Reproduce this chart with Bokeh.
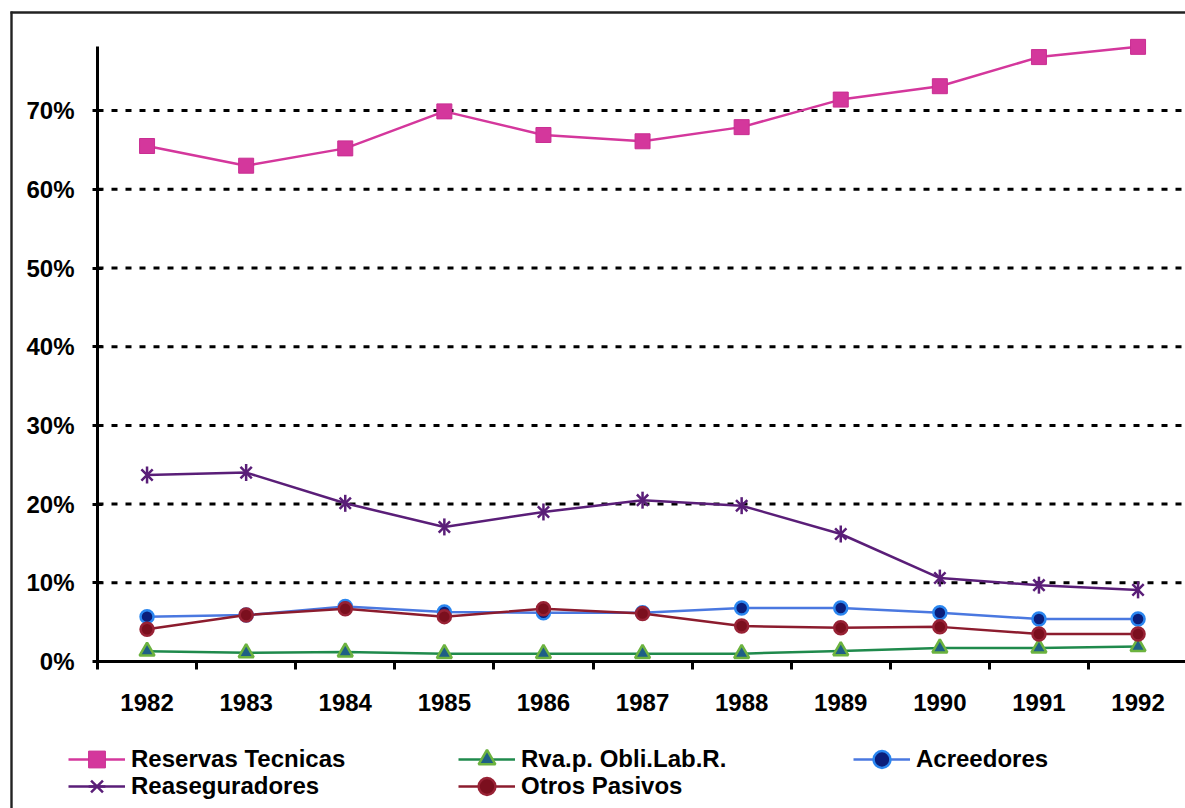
import math
from bokeh.plotting import figure
from bokeh.models import (Range1d, FixedTicker, Legend, LegendItem, BoxAnnotation,
                          CustomJSTickFormatter, PrintfTickFormatter)
from bokeh.embed import file_html
from bokeh.resources import INLINE

# Liability structure (% of total), 1982-1992
years = ["1982", "1983", "1984", "1985", "1986", "1987", "1988", "1989", "1990", "1991", "1992"]
reservas_tecnicas = [65.5, 63.0, 65.2, 69.9, 66.9, 66.1, 67.9, 71.4, 73.1, 76.8, 78.1]
reaseguradores = [23.7, 24.0, 20.1, 17.1, 19.0, 20.5, 19.8, 16.2, 10.6, 9.7, 9.1]
rva_obli_lab = [1.3, 1.1, 1.2, 1.0, 1.0, 1.0, 1.0, 1.35, 1.7, 1.7, 1.9]
acreedores = [5.7, 5.9, 7.0, 6.3, 6.2, 6.2, 6.8, 6.8, 6.2, 5.4, 5.4]
otros_pasivos = [4.1, 5.9, 6.7, 5.7, 6.7, 6.1, 4.5, 4.3, 4.4, 3.5, 3.5]
y_ticks = [0, 10, 20, 30, 40, 50, 60, 70]
y_axis_max = 78.2

FONT = "Liberation Sans"
W, H = 1185, 808

# canvas geometry: the frame covers the whole canvas, axes are pinned inside it
AXIS_X_PX = 97        # pixel column of the value axis
AXIS_Y_PX = 661       # pixel row of the category axis
PX_PER_CAT = 99.1
PX_PER_PCT = 7.87

x_start = -AXIS_X_PX / PX_PER_CAT
x_end = (W - AXIS_X_PX) / PX_PER_CAT
y_start = -(H - AXIS_Y_PX) / PX_PER_PCT
y_end = AXIS_Y_PX / PX_PER_PCT


def px_to_x(px):
    return (px - AXIS_X_PX) / PX_PER_CAT


def py_to_y(py):
    return (AXIS_Y_PX - py) / PX_PER_PCT


# category centres sit at i + 0.5, category boundaries at integers
xs = [i + 0.5 for i in range(len(years))]
boundaries = list(range(len(years) + 1))

p = figure(width=W, height=H, output_backend="svg", toolbar_location=None,
           x_range=Range1d(x_start, x_end), y_range=Range1d(y_start, y_end),
           min_border=0, min_border_left=0, min_border_right=0,
           min_border_top=0, min_border_bottom=0,
           background_fill_color="white", border_fill_color="white")
p.outline_line_color = None
p.xgrid.visible = False
p.ygrid.visible = False

# y axis
p.yaxis.fixed_location = 0
p.yaxis.ticker = FixedTicker(ticks=y_ticks, minor_ticks=[])
p.yaxis.formatter = PrintfTickFormatter(format="%d%%")
p.yaxis.bounds = (0, y_axis_max)
p.yaxis.axis_line_width = 3
p.yaxis.axis_line_color = "black"
p.yaxis.major_tick_line_width = 3
p.yaxis.major_tick_line_color = "black"
p.yaxis.major_tick_in = 5
p.yaxis.major_tick_out = 5
p.yaxis.minor_tick_line_color = None
p.yaxis.major_label_standoff = 18
p.yaxis.major_label_text_font = FONT
p.yaxis.major_label_text_font_style = "bold"
p.yaxis.major_label_text_font_size = "24px"
p.yaxis.major_label_text_color = "black"

# x axis: labels at category centres, tick marks between categories
p.xaxis.fixed_location = 0
p.xaxis.ticker = FixedTicker(ticks=xs, minor_ticks=boundaries)
p.xaxis.formatter = CustomJSTickFormatter(args=dict(yrs=years),
                                          code="return yrs[Math.floor(tick)] || ''")
p.xaxis.bounds = (0, x_end)
p.xaxis.axis_line_width = 3
p.xaxis.axis_line_color = "black"
p.xaxis.major_tick_line_color = None
p.xaxis.major_tick_in = 0
p.xaxis.major_tick_out = 0
p.xaxis.minor_tick_in = 0
p.xaxis.minor_tick_out = 8
p.xaxis.minor_tick_line_width = 3
p.xaxis.minor_tick_line_color = "black"
p.xaxis.major_label_standoff = 24
p.xaxis.major_label_text_font = FONT
p.xaxis.major_label_text_font_style = "bold"
p.xaxis.major_label_text_font_size = "24px"
p.xaxis.major_label_text_color = "black"

# dotted horizontal gridlines, starting at the value axis
grid_y = y_ticks[1:]
p.segment(x0=[0] * len(grid_y), x1=[x_end] * len(grid_y), y0=grid_y, y1=grid_y,
          line_color="black", line_width=3, line_dash="6 8")

# series
r_line = p.line(xs, reservas_tecnicas, line_color="#D4379C", line_width=2.5)
r_mark = p.scatter(xs, reservas_tecnicas, marker="square", size=15,
                   fill_color="#D4379C", line_color="#C92E92", line_width=1)

v_line = p.line(xs, rva_obli_lab, line_color="#1F8A4C", line_width=2.5)
v_mark = p.scatter(xs, rva_obli_lab, marker="triangle", size=15,
                   fill_color="#1E5F86", line_color="#6CB33F", line_width=2.5)

a_line = p.line(xs, acreedores, line_color="#4A78E0", line_width=2.5)
a_mark = p.scatter(xs, acreedores, marker="circle", size=13,
                   fill_color="#0B1E7A", line_color="#2A86F0", line_width=2.5)

s_line = p.line(xs, reaseguradores, line_color="#5A1E78", line_width=2.5)
s_x = p.scatter(xs, reaseguradores, marker="x", size=16,
                line_color="#5A1E78", line_width=2.5)
s_bar = p.scatter(xs, reaseguradores, marker="dash", angle=math.pi / 2, size=17,
                  line_color="#5A1E78", line_width=2.5)

o_line = p.line(xs, otros_pasivos, line_color="#8C1C2E", line_width=2.5)
o_mark = p.scatter(xs, otros_pasivos, marker="circle", size=13,
                   fill_color="#7B0F1E", line_color="#982235", line_width=2.5)

KEY_W, KEY_H = 57, 42


def add_entry(label, renderers, x_px, centre_py):
    # legend location is measured in pixels from the frame's bottom-left corner
    lg = Legend(items=[LegendItem(label=label, renderers=renderers)],
                location=(x_px, H - (centre_py + KEY_H / 2)), orientation="vertical",
                padding=0, margin=0, spacing=0,
                border_line_color=None, background_fill_alpha=0,
                glyph_width=KEY_W, glyph_height=KEY_H, label_standoff=6,
                label_text_font=FONT, label_text_font_style="bold",
                label_text_font_size="24px", label_text_color="black")
    p.add_layout(lg, "center")


ROW1, ROW2 = 758.5, 785.5
add_entry("Reservas Tecnicas", [r_line, r_mark], 68, ROW1)
add_entry("Rva.p. Obli.Lab.R.", [v_line, v_mark], 458, ROW1)
add_entry("Acreedores", [a_line, a_mark], 853, ROW1)
add_entry("Reaseguradores", [s_line, s_x, s_bar], 68, ROW2)
add_entry("Otros Pasivos", [o_line, o_mark], 458, ROW2)

# chart border: left and top edges (the others run past the canvas)
border = dict(fill_color="#222222", fill_alpha=1.0, line_alpha=0, level="overlay")
p.add_layout(BoxAnnotation(left=px_to_x(9.8), right=px_to_x(12.2),
                           top=py_to_y(11), bottom=None, **border))
p.add_layout(BoxAnnotation(left=px_to_x(10), right=None,
                           top=py_to_y(10.8), bottom=py_to_y(13.2), **border))

open("out.html", "w").write(file_html(p, INLINE))
